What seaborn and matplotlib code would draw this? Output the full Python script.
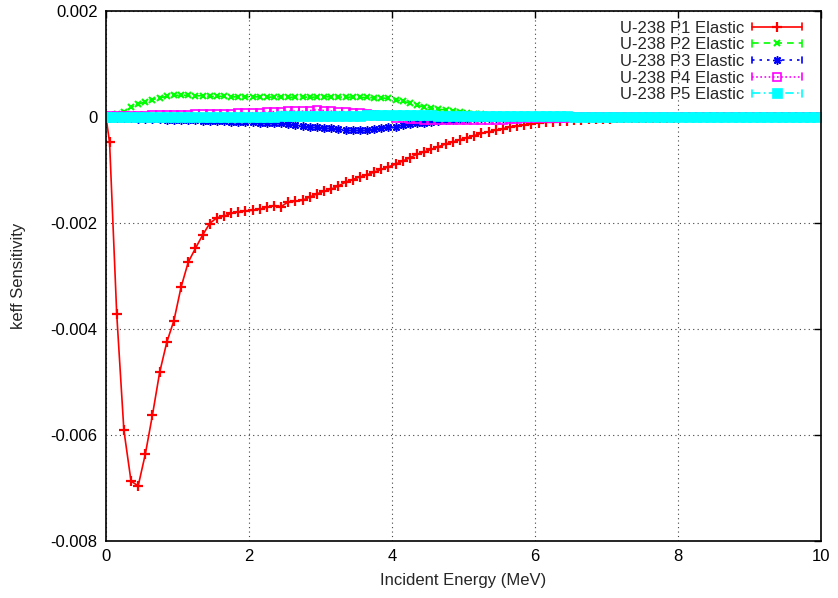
import matplotlib
matplotlib.use("Agg")
import matplotlib.pyplot as plt
import seaborn as sns
import pandas as pd
from matplotlib.lines import Line2D
from matplotlib.legend_handler import HandlerLine2D
from matplotlib.ticker import FuncFormatter

# ---------------- data ----------------
energy = [0.0,
          0.05, 0.15, 0.25, 0.35, 0.45, 0.55, 0.65, 0.75, 0.85, 0.95,
          1.05, 1.15, 1.25, 1.35, 1.45, 1.55, 1.65, 1.75, 1.85, 1.95,
          2.05, 2.15, 2.25, 2.35, 2.45, 2.55, 2.65, 2.75, 2.85, 2.95,
          3.05, 3.15, 3.25, 3.35, 3.45, 3.55, 3.65, 3.75, 3.85, 3.95,
          4.05, 4.15, 4.25, 4.35, 4.45, 4.55, 4.65, 4.75, 4.85, 4.95,
          5.05, 5.15, 5.25, 5.35, 5.45, 5.55, 5.65, 5.75, 5.85, 5.95,
          6.05, 6.15, 6.25, 6.35, 6.45, 6.55, 6.65, 6.75, 6.85, 6.95,
          7.05, 7.15, 7.25, 7.35, 7.45, 7.55, 7.65, 7.75, 7.85, 7.95,
          8.05, 8.15, 8.25, 8.35, 8.45, 8.55, 8.65, 8.75, 8.85, 8.95,
          9.05, 9.15, 9.25, 9.35, 9.45, 9.55, 9.65, 9.75, 9.85, 9.95]

p1 = [0.0,
      -0.00048, -0.00372, -0.00591, -0.00687, -0.00696, -0.00636, -0.00562, -0.00482, -0.00425, -0.00384,
      -0.00321, -0.00274, -0.00248, -0.00223, -0.00201, -0.00190, -0.00187, -0.00182, -0.00179, -0.00177,
      -0.00176, -0.00174, -0.00170, -0.00167, -0.00169, -0.00160, -0.00159, -0.00157, -0.00151, -0.00145,
      -0.00140, -0.00136, -0.00130, -0.00123, -0.00118, -0.00113, -0.00109, -0.00104, -0.00099, -0.00094,
      -0.00089, -0.00083, -0.00077, -0.00070, -0.00066, -0.00061, -0.00056, -0.00051, -0.00047, -0.00043,
      -0.00039, -0.00035, -0.00031, -0.00028, -0.00025, -0.00022, -0.00019, -0.00017, -0.00015, -0.00013,
      -0.00011, -0.00010, -0.00009, -0.00008, -0.00007, -0.00006, -0.00005, -0.00004, -0.00004, -0.00003,
      -0.00003, -0.00002, -0.00002, -0.00002, -0.00001, -0.00001, -0.00001, -0.00001, -0.00001, -0.00001,
      0.0, 0.0, 0.0, 0.0, 0.0, 0.0, 0.0, 0.0, 0.0, 0.0,
      0.0, 0.0, 0.0, 0.0, 0.0, 0.0, 0.0, 0.0, 0.0, 0.0]

p2 = [0.0,
      0.00002, 0.00005, 0.00010, 0.00018, 0.00024, 0.00029, 0.00033, 0.00036, 0.00039, 0.00041,
      0.00041, 0.00041, 0.00040, 0.00040, 0.00039, 0.00039, 0.00039, 0.00038, 0.00038, 0.00038,
      0.00038, 0.00038, 0.00037, 0.00038, 0.00038, 0.00037, 0.00038, 0.00038, 0.00037, 0.00038,
      0.00038, 0.00038, 0.00038, 0.00037, 0.00038, 0.00037, 0.00037, 0.00036, 0.00036, 0.00035,
      0.00033, 0.00030, 0.00026, 0.00022, 0.00019, 0.00017, 0.00015, 0.00013, 0.00011, 0.00010,
      0.00008, 0.00006, 0.00005, 0.00004, 0.00003, 0.00002, 0.00001, 0.00001, 0.00001, 0.0,
      0.0, 0.0, 0.0, 0.0, 0.0, 0.0, 0.0, 0.0, 0.0, 0.0,
      0.0, 0.0, 0.0, 0.0, 0.0, 0.0, 0.0, 0.0, 0.0, 0.0,
      0.0, 0.0, 0.0, 0.0, 0.0, 0.0, 0.0, 0.0, 0.0, 0.0,
      0.0, 0.0, 0.0, 0.0, 0.0, 0.0, 0.0, 0.0, 0.0, 0.0]

p3 = [0.0,
      -0.00001, -0.00001, -0.00002, -0.00002, -0.00003, -0.00003, -0.00004, -0.00004, -0.00005, -0.00005,
      -0.00005, -0.00006, -0.00006, -0.00007, -0.00007, -0.00008, -0.00008, -0.00009, -0.00009, -0.00010,
      -0.00010, -0.00011, -0.00011, -0.00012, -0.00012, -0.00013, -0.00015, -0.00017, -0.00018, -0.00019,
      -0.00020, -0.00021, -0.00023, -0.00024, -0.00025, -0.00025, -0.00024, -0.00022, -0.00020, -0.00019,
      -0.00018, -0.00016, -0.00014, -0.00012, -0.00011, -0.00009, -0.00007, -0.00006, -0.00005, -0.00004,
      -0.00003, -0.00002, -0.00002, -0.00002, -0.00002, -0.00001, -0.00001, -0.00001, -0.00001, -0.00001,
      0.0, 0.0, 0.0, 0.0, 0.0, 0.0, 0.0, 0.0, 0.0, 0.0,
      0.0, 0.0, 0.0, 0.0, 0.0, 0.0, 0.0, 0.0, 0.0, 0.0,
      0.0, 0.0, 0.0, 0.0, 0.0, 0.0, 0.0, 0.0, 0.0, 0.0,
      0.0, 0.0, 0.0, 0.0, 0.0, 0.0, 0.0, 0.0, 0.0, 0.0]

p4 = [0.0,
      0.00001, 0.00001, 0.00001, 0.00002, 0.00002, 0.00002, 0.00003, 0.00003, 0.00003, 0.00004,
      0.00004, 0.00004, 0.00005, 0.00005, 0.00005, 0.00006, 0.00006, 0.00006, 0.00007, 0.00007,
      0.00008, 0.00008, 0.00009, 0.00010, 0.00010, 0.00011, 0.00011, 0.00011, 0.00012, 0.00014,
      0.00012, 0.00011, 0.00010, 0.00009, 0.00008, 0.00007, 0.00006, 0.00004, 0.00002, 0.00001,
      -0.00001, -0.00002, -0.00003, -0.00004, -0.00005, -0.00006, -0.00006, -0.00006, -0.00006, -0.00006,
      -0.00006, -0.00006, -0.00006, -0.00006, -0.00006, -0.00005, -0.00004, -0.00003, -0.00002, -0.00001,
      -0.00001, -0.00001, -0.00001, -0.00001, -0.00001, 0.0, 0.0, 0.0, 0.0, 0.0,
      0.0, 0.0, 0.0, 0.0, 0.0, 0.0, 0.0, 0.0, 0.0, 0.0,
      0.0, 0.0, 0.0, 0.0, 0.0, 0.0, 0.0, 0.0, 0.0, 0.0,
      0.0, 0.0, 0.0, 0.0, 0.0, 0.0, 0.0, 0.0, 0.0, 0.0]

p5 = [0.0,
      0.0, 0.0, 0.0, 0.0, 0.0, 0.0, 0.0, 0.0, 0.0, 0.0,
      0.0, 0.0, 0.0, 0.0, 0.0, 0.0, 0.0, 0.0, 0.0, 0.0,
      0.0, 0.0, 0.0, 0.0, 0.00001, 0.00001, 0.00001, 0.00001, 0.00001, 0.00001,
      0.00001, 0.00001, 0.00002, 0.00002, 0.00002, 0.00002, 0.00003, 0.00003, 0.00003, 0.00003,
      0.00003, 0.00003, 0.00003, 0.00003, 0.00003, 0.00003, 0.00002, 0.00002, 0.00002, 0.00002,
      0.00002, 0.00002, 0.00002, 0.00001, 0.00001, 0.00001, 0.00001, 0.00001, 0.00001, 0.00001,
      0.00001, 0.00001, 0.00001, 0.00001, 0.00001, 0.0, 0.0, 0.0, 0.0, 0.0,
      0.0, 0.0, 0.0, 0.0, 0.0, 0.0, 0.0, 0.0, 0.0, 0.0,
      0.0, 0.0, 0.0, 0.0, 0.0, 0.0, 0.0, 0.0, 0.0, 0.0,
      0.0, 0.0, 0.0, 0.0, 0.0, 0.0, 0.0, 0.0, 0.0, 0.0]

labels = ["U-238 P1 Elastic", "U-238 P2 Elastic", "U-238 P3 Elastic",
          "U-238 P4 Elastic", "U-238 P5 Elastic"]
series = [p1, p2, p3, p4, p5]

x_ticks = [0, 2, 4, 6, 8, 10]
y_ticks = [-0.008, -0.006, -0.004, -0.002, 0.0, 0.002]

# ---------------- styles ----------------
colors = ["#ff0000", "#00ff00", "#0000ff", "#ff00ff", "#00ffff"]
styles = [
    dict(linestyle="-", marker="+", markersize=7, mew=1.6),
    dict(linestyle=(0, (4, 3)), marker="x", markersize=5, mew=1.5),
    dict(linestyle=(0, (1.5, 3)), marker=(8, 2, 0), markersize=6, mew=1.1),
    dict(linestyle=(0, (1, 1.5)), marker="s", markersize=5.2,
         markerfacecolor="none", mew=1.2),
    dict(linestyle=(0, (5, 2, 1, 2)), marker="s", markersize=7, mew=0.5),
]

FS = 12

sns.set_style("white")
plt.rcParams["font.family"] = ["Liberation Sans", "DejaVu Sans"]
plt.rcParams["axes.unicode_minus"] = False

fig = plt.figure(figsize=(8.38, 5.98), dpi=100)
ax = fig.add_axes([0.1265, 0.0953, 0.8532, 0.8863])

for lab, vals, col, st in zip(labels, series, colors, styles):
    df = pd.DataFrame({"energy": energy, "sens": vals})
    sns.lineplot(data=df, x="energy", y="sens", ax=ax, label=lab, sort=False,
                 errorbar=None, linewidth=1.2, color=col, markeredgecolor=col, **st)


class CapHandler(HandlerLine2D):
    def create_artists(self, legend, orig_handle, xdescent, ydescent,
                       width, height, fontsize, trans):
        artists = super().create_artists(legend, orig_handle, xdescent, ydescent,
                                         width, height, fontsize, trans)
        ymid = (height - ydescent) / 2
        half = height * 0.28
        for xx in (-xdescent, -xdescent + width):
            cap = Line2D([xx, xx], [ymid - half, ymid + half],
                         color=orig_handle.get_color(), lw=1.2, transform=trans)
            artists.append(cap)
        return artists


handles, labs = ax.get_legend_handles_labels()
ax.legend(handles, labs, handler_map={Line2D: CapHandler()},
          loc="upper right", bbox_to_anchor=(0.9734, 0.982), frameon=False,
          markerfirst=False, numpoints=1, handlelength=3.0, handletextpad=0.48,
          labelspacing=0.1, borderpad=0, borderaxespad=0, fontsize=FS)

ax.set_xlim(0, 10)
ax.set_ylim(-0.008, 0.002)
ax.set_xticks(x_ticks)
ax.set_yticks(y_ticks)
ax.yaxis.set_major_formatter(FuncFormatter(lambda v, p: "0" if abs(v) < 1e-12 else f"{v:.3f}"))
ax.xaxis.set_major_formatter(FuncFormatter(lambda v, p: f"{v:g}"))
ax.tick_params(direction="in", top=True, right=True, length=5, width=1,
               labelsize=FS, pad=6, colors="black")
ax.grid(True, linestyle=(0, (1, 3)), color="#444444", linewidth=0.8)
for sp in ax.spines.values():
    sp.set_color("black")
    sp.set_linewidth(1.2)

ax.set_xlabel("Incident Energy (MeV)", fontsize=FS, labelpad=6)
ax.set_ylabel("keff Sensitivity", fontsize=FS, labelpad=18)

fig.savefig("out.png", dpi=100)
